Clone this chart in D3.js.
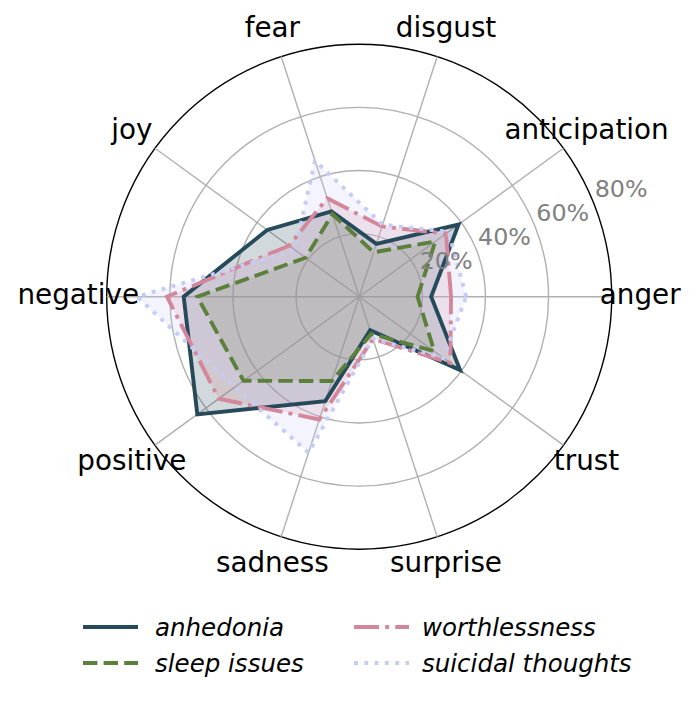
<!DOCTYPE html>
<html>
<head>
<meta charset="utf-8">
<script src="https://cdn.jsdelivr.net/npm/d3@7"></script>
<style>
  html, body { margin: 0; padding: 0; background: #fff; }
  svg { display: block; font-family: "DejaVu Sans", sans-serif; }
</style>
</head>
<body>
<svg id="chart" width="698" height="705"></svg>
<script>
const categories = ["anger","anticipation","disgust","fear","joy","negative","positive","sadness","surprise","trust"];
const anhedonia     = [0.228, 0.389, 0.176, 0.284, 0.360, 0.556, 0.634, 0.348, 0.112, 0.395];
const sleepIssues   = [0.185, 0.298, 0.148, 0.275, 0.210, 0.513, 0.453, 0.281, 0.124, 0.294];
const worthlessness = [0.291, 0.340, 0.234, 0.328, 0.275, 0.609, 0.550, 0.409, 0.141, 0.357];
const suicidal      = [0.339, 0.350, 0.240, 0.453, 0.252, 0.704, 0.487, 0.520, 0.140, 0.330];
const seriesNames = ["anhedonia","sleep issues","worthlessness","suicidal thoughts"];
const rTicks = [0.2, 0.4, 0.6, 0.8];
const rTickLabels = ["20%","40%","60%","80%"];

const seriesValues = [anhedonia, sleepIssues, worthlessness, suicidal];
const colors = ["#264a5a", "#5b803a", "#d4879b", "#c5cdf6"];
const dashes = [null, "14.4,6.2", "25,6.2,3.9,6.2", "3.9,6.4"];

const svg = d3.select("#chart");
const cx = 359.2, cy = 296.7, R = 252.5;
const g = svg.append("g").attr("transform", `translate(${cx},${cy})`);

const r = d3.scaleLinear().domain([0, 0.8]).range([0, R]);
const angle = d3.scaleLinear().domain([0, categories.length]).range([Math.PI / 2, Math.PI / 2 - 2 * Math.PI]);

g.selectAll("circle.grid").data(rTicks).join("circle")
  .attr("r", d => r(d))
  .attr("fill", "none")
  .attr("stroke", (d, i) => i === rTicks.length - 1 ? "#000" : "#b0b0b0")
  .attr("stroke-width", 1.4);

g.selectAll("line.spoke").data(categories).join("line")
  .attr("x1", 0).attr("y1", 0)
  .attr("x2", (d, i) => R * Math.sin(angle(i)))
  .attr("y2", (d, i) => -R * Math.cos(angle(i)))
  .attr("stroke", "#b0b0b0").attr("stroke-width", 1.4);

const line = d3.lineRadial()
  .angle((d, i) => angle(i))
  .radius(d => r(d))
  .curve(d3.curveLinearClosed);

seriesValues.forEach((vals, k) => {
  g.append("path").datum(vals)
    .attr("d", line)
    .attr("fill", colors[k]).attr("fill-opacity", 0.21)
    .attr("stroke", "none");
});
seriesValues.forEach((vals, k) => {
  g.append("path").datum(vals)
    .attr("d", line)
    .attr("fill", "none")
    .attr("stroke", colors[k])
    .attr("stroke-width", 3.9)
    .attr("stroke-linejoin", "miter")
    .attr("stroke-dasharray", dashes[k]);
});

const labAng = 22.5 * Math.PI / 180;
g.selectAll("text.rtick").data(rTicks).join("text")
  .attr("x", d => (r(d) + 31) * Math.cos(labAng))
  .attr("y", d => -(r(d) + 31) * Math.sin(labAng))
  .attr("text-anchor", "middle")
  .attr("dy", "0.36em")
  .attr("font-size", "23.8px")
  .attr("fill", "#808080")
  .text((d, i) => rTickLabels[i]);

g.selectAll("text.cat").data(categories).join("text")
  .attr("x", (d, i) => 281 * Math.sin(angle(i)))
  .attr("y", (d, i) => -281 * Math.cos(angle(i)))
  .attr("text-anchor", "middle")
  .attr("dy", "0.28em")
  .attr("font-size", "27.8px")
  .attr("fill", "#000")
  .text(d => d);

const legPos = [
  {x: 83, y: 627}, {x: 83, y: 663}, {x: 354, y: 627}, {x: 354, y: 663}
];
const leg = svg.append("g");
seriesNames.forEach((name, k) => {
  const p = legPos[k];
  leg.append("line")
    .attr("x1", p.x).attr("x2", p.x + 55)
    .attr("y1", p.y).attr("y2", p.y)
    .attr("stroke", colors[k]).attr("stroke-width", 3.9)
    .attr("stroke-dasharray", dashes[k]);
  leg.append("text")
    .attr("x", p.x + (k < 2 ? 72 : 68)).attr("y", p.y)
    .attr("dy", "0.35em")
    .attr("font-size", "24.5px")
    .attr("font-style", "italic")
    .attr("fill", "#000")
    .text(name);
});
</script>
</body>
</html>
